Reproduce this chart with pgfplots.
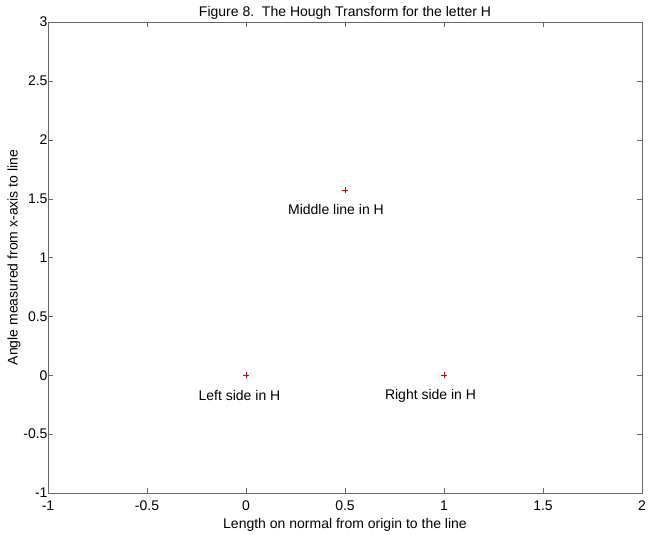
\documentclass[border=0pt]{standalone}
\usepackage{fontspec}
\setmainfont{Liberation Sans}
\usepackage{pgfplots}
\pgfplotsset{compat=1.18}
\newcommand{\ff}{\fontsize{14}{16}\selectfont}
\begin{document}
\begin{tikzpicture}
\useasboundingbox (-48pt,-42pt) rectangle (605pt,493pt);
\begin{axis}[
  scale only axis,
  width=594pt, height=471pt,
  xmin=-1, xmax=2, ymin=-1, ymax=3,
  xtick={-1,-0.5,...,2}, ytick={-1,-0.5,...,3},
  tick align=inside,
  major tick length=5pt,
  tick style={black!60},
  axis line style={black!60},
  /pgf/number format/assume math mode=true,
  ticklabel style={font=\ff},
  label style={font=\ff},
  title style={font=\ff, yshift=-7pt},
  title={Figure 8.\ \ The Hough Transform for the letter H},
  xlabel={Length on normal from origin to the line},
  ylabel={Angle measured from x-axis to line},
  xlabel style={yshift=-1pt},
  ylabel style={yshift=-4pt},
  xticklabel style={yshift=-4pt},
  yticklabel style={xshift=3pt},
]
\addplot[only marks, mark=+, mark size=3pt, red!85!black, mark options={line width=0.5pt}] coordinates {
  (0,0) (0.5,1.5708) (1,0)
};
\node[font=\ff] at (axis cs:0.4545,1.41) {Middle line in H};
\node[font=\ff] at (axis cs:-0.033,-0.17) {Left side in H};
\node[font=\ff] at (axis cs:0.932,-0.178) {Right side in H};
\end{axis}
\end{tikzpicture}
\end{document}
